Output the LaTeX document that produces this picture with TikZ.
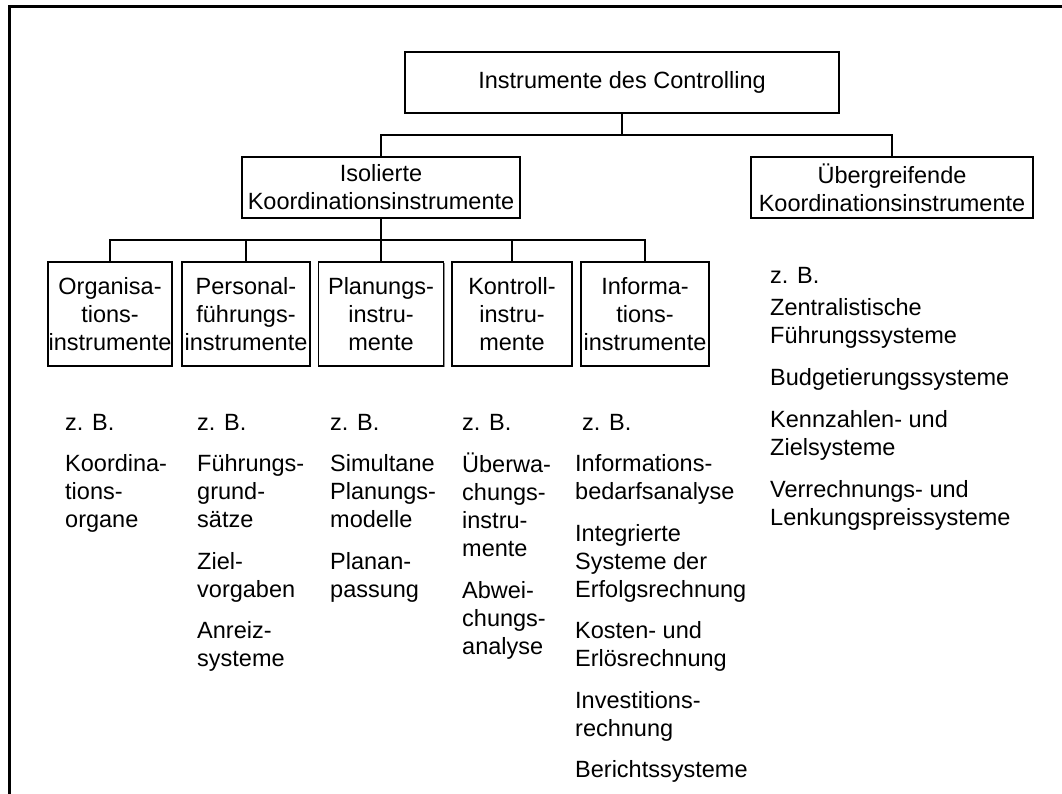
\documentclass[tikz,border=0pt]{standalone}
\usepackage{fontspec}
\setmainfont{Liberation Sans}
\usetikzlibrary{shadows}
\begin{document}
\begin{tikzpicture}[x=1pt,y=-1pt,
  every node/.style={font=\fontsize{23.5}{28}\selectfont},
  box/.style={draw=black, line width=1.1pt, fill=white, inner sep=0pt, align=center,
    general shadow={fill=black!45, shadow xshift=1.4pt, shadow yshift=-1.4pt}},
  col/.style={anchor=north west, inner sep=0pt, align=left},
  conn/.style={draw=black, line width=1.1pt},
  frame/.style={draw=black, line width=3pt}]
\useasboundingbox (0,0) rectangle (1062,794);
\fill[white] (0,0) rectangle (1062,794);
% outer frame
\draw[frame] (9.5,794) -- (9.5,7) -- (1062,7);

% boxes
\node[box, minimum width=434pt, minimum height=61pt] (top) at (622,82.5) {Instrumente des Controlling};
\node[box, minimum width=278pt, minimum height=61pt] (iso) at (381,187.5) {Isolierte\\Koordinationsinstrumente};
\node[box, minimum width=282pt, minimum height=61pt] (ueb) at (892,187.5) {Übergreifende\\Koordinationsinstrumente};

\node[box, minimum width=124pt, minimum height=104pt] (b1) at (110,314) {Organisa-\\tions-\\instrumente};
\node[box, minimum width=128pt, minimum height=104pt] (b2) at (246,314) {Personal-\\führungs-\\instrumente};
\node[box, minimum width=125pt, minimum height=104pt] (b3) at (381,314) {Planungs-\\instru-\\mente};
\node[box, minimum width=120pt, minimum height=104pt] (b4) at (512,314) {Kontroll-\\instru-\\mente};
\node[box, minimum width=128pt, minimum height=104pt] (b5) at (645,314) {Informa-\\tions-\\instrumente};

% connectors
\coordinate (j1) at (622,135);
\coordinate (j2) at (381,240);
\draw[conn] (top.south) -- (j1);
\draw[conn] (iso.north) |- (j1) -| (ueb.north);
\draw[conn] (iso.south) -- (j2);
\draw[conn] (b1.north) |- (j2) -| (b5.north);
\draw[conn] (b2.north) -- (b2.north |- j2);
\draw[conn] (b3.north) -- (b3.north |- j2);
\draw[conn] (b4.north) -- (b4.north |- j2);

% example lists
\node[col] (c1) at (65,410.4) {\strut z. B.\\[13.5pt]Koordina-\\tions-\\organe};
\node[col] (c2) at (197,410.4) {\strut z. B.\\[13.5pt]Führungs-\\grund-\\sätze\\[13.5pt]Ziel-\\vorgaben\\[13.5pt]Anreiz-\\systeme};
\node[col] (c3) at (330,410.4) {\strut z. B.\\[13.5pt]Simultane\\Planungs-\\modelle\\[13.5pt]Planan-\\passung};
\node[col] (c4) at (462,410.4) {\strut z. B.\\[13.5pt]Überwa-\\chungs-\\instru-\\mente\\[13.5pt]Abwei-\\chungs-\\analyse};
\node[col] (c5) at (575,410.4) {\strut\hspace*{7pt}z. B.\\[13.5pt]Informations-\\bedarfsanalyse\\[13.5pt]Integrierte\\Systeme der\\Erfolgsrechnung\\[13.5pt]Kosten- und\\Erlösrechnung\\[13.5pt]Investitions-\\rechnung\\[13.5pt]Berichtssysteme};
\node[col] (c6) at (770,263.4) {\strut z. B.\\[4pt]Zentralistische\\Führungssysteme\\[14pt]Budgetierungssysteme\\[14pt]Kennzahlen- und\\Zielsysteme\\[14pt]Verrechnungs- und\\Lenkungspreissysteme};
\end{tikzpicture}
\end{document}
